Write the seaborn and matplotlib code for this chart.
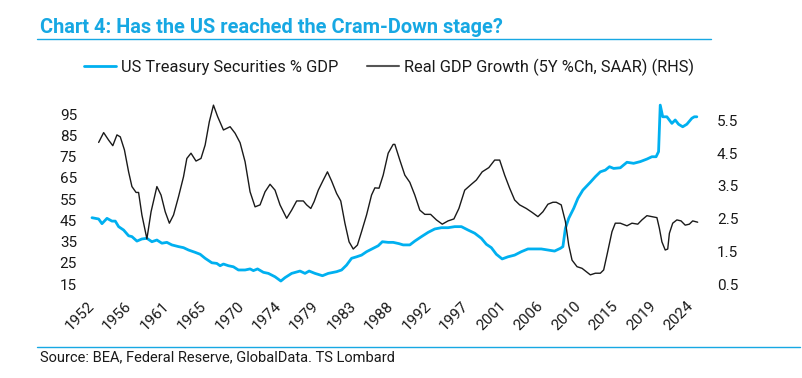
import matplotlib
matplotlib.use("Agg")
import matplotlib.pyplot as plt
import seaborn as sns
from matplotlib.lines import Line2D

# US Treasury securities as % of GDP (left axis)
ust_years = [
    1952.0, 1952.8, 1953.2, 1953.8, 1954.4, 1954.8, 1955.2, 1955.8, 1956.4, 1956.8,
    1957.4, 1958.0, 1958.6, 1959.2, 1959.8, 1960.4, 1961.0, 1961.6, 1962.4, 1963.0,
    1963.6, 1964.4, 1965.0, 1965.6, 1966.4, 1967.0, 1967.4, 1967.8, 1968.4, 1969.0,
    1969.6, 1970.4, 1971.0, 1971.4, 1971.9, 1972.6, 1973.2, 1974.0, 1974.7, 1975.2,
    1976.0, 1977.0, 1977.6, 1978.1, 1978.8, 1979.7, 1980.4, 1981.4, 1982.0, 1982.6,
    1983.2, 1983.8, 1984.4, 1985.0, 1985.8, 1986.4, 1986.9, 1987.6, 1988.2, 1988.9,
    1989.4, 1990.2, 1990.8, 1991.6, 1992.4, 1993.2, 1994.0, 1994.8, 1995.6, 1996.4,
    1997.2, 1998.0, 1998.8, 1999.4, 2000.0, 2000.6, 2001.3, 2002.0, 2002.8, 2003.6,
    2004.4, 2005.2, 2006.0, 2006.8, 2007.6, 2008.3, 2008.6, 2008.9, 2009.3, 2009.9,
    2010.4, 2011.0, 2011.9, 2012.5, 2013.1, 2013.7, 2014.2, 2014.7, 2015.5, 2016.3,
    2017.1, 2017.9, 2018.7, 2019.3, 2019.8, 2020.1, 2020.3, 2020.6, 2021.1, 2021.7,
    2022.1, 2022.5, 2023.0, 2023.5, 2024.1, 2024.4, 2024.7,
]
ust_pct_gdp = [
    46.2, 45.6, 43.4, 45.9, 44.6, 44.6, 42.0, 40.4, 37.7, 37.3,
    35.2, 36.2, 36.5, 34.9, 35.7, 34.2, 34.6, 33.4, 32.6, 32.1,
    31.0, 29.9, 29.0, 27.1, 25.0, 24.7, 23.6, 24.4, 23.6, 23.1,
    21.6, 21.6, 22.1, 21.3, 22.1, 20.5, 20.0, 18.4, 16.4, 18.0,
    20.0, 21.1, 20.0, 21.1, 20.0, 18.9, 20.0, 20.8, 21.6, 23.9,
    27.1, 27.8, 28.6, 30.2, 31.8, 33.0, 34.9, 34.6, 34.6, 34.0,
    33.4, 33.4, 35.2, 37.3, 39.3, 40.9, 41.5, 41.5, 42.0, 42.0,
    40.4, 38.9, 36.5, 33.7, 32.1, 29.0, 26.8, 27.8, 28.6, 30.2,
    31.5, 31.5, 31.5, 31.0, 30.5, 31.8, 32.6, 41.2, 45.9, 50.6,
    55.3, 59.2, 62.9, 65.5, 67.8, 68.6, 70.2, 69.4, 69.7, 72.3,
    71.8, 72.6, 73.8, 74.9, 74.9, 77.3, 99.2, 93.7, 93.7, 90.6,
    92.2, 90.2, 89.0, 90.2, 93.0, 93.7, 93.7,
]

# Real GDP growth, 5Y %ch SAAR (right axis)
gdp_years = [
    1952.8, 1953.4, 1954.0, 1954.5, 1955.0, 1955.4, 1955.9, 1956.4, 1956.8, 1957.3,
    1957.6, 1958.0, 1958.6, 1959.1, 1959.8, 1960.3, 1960.8, 1961.3, 1961.8, 1962.4,
    1963.0, 1963.4, 1963.9, 1964.5, 1965.1, 1965.6, 1966.1, 1966.6, 1967.1, 1967.8,
    1968.6, 1969.2, 1969.8, 1970.4, 1971.0, 1971.6, 1972.2, 1972.8, 1973.4, 1974.0,
    1974.6, 1975.4, 1976.0, 1976.6, 1977.4, 1977.8, 1978.3, 1978.7, 1979.2, 1979.8,
    1980.3, 1980.8, 1981.4, 1981.9, 1982.4, 1982.9, 1983.4, 1983.9, 1984.4, 1985.0,
    1985.6, 1986.0, 1986.5, 1987.0, 1987.6, 1988.2, 1988.4, 1989.0, 1989.6, 1990.2,
    1990.8, 1991.4, 1992.0, 1992.7, 1993.4, 1994.1, 1994.8, 1995.5, 1996.1, 1996.8,
    1997.6, 1998.2, 1998.9, 1999.7, 2000.4, 2001.0, 2001.6, 2002.2, 2002.8, 2003.4,
    2004.2, 2004.9, 2005.6, 2006.2, 2006.8, 2007.4, 2007.8, 2008.4, 2008.9, 2009.3,
    2009.7, 2010.3, 2010.9, 2011.4, 2011.9, 2012.5, 2013.1, 2013.5, 2013.9, 2014.5,
    2014.9, 2015.5, 2016.3, 2016.9, 2017.6, 2018.1, 2018.7, 2019.3, 2019.9, 2020.2,
    2020.5, 2020.9, 2021.2, 2021.4, 2021.8, 2022.3, 2022.8, 2023.3, 2023.8, 2024.2,
    2024.8,
]
gdp_growth = [
    4.83, 5.13, 4.90, 4.73, 5.06, 5.00, 4.60, 3.93, 3.48, 3.30,
    3.30, 2.61, 1.88, 2.71, 3.48, 3.22, 2.71, 2.36, 2.61, 3.17,
    3.78, 4.34, 4.50, 4.26, 4.34, 4.75, 5.46, 5.97, 5.62, 5.21,
    5.31, 5.11, 4.82, 4.24, 3.32, 2.86, 2.92, 3.32, 3.55, 3.37,
    2.92, 2.51, 2.76, 3.04, 3.04, 2.92, 2.81, 3.02, 3.37, 3.68,
    3.93, 3.65, 3.27, 3.04, 2.36, 1.79, 1.57, 1.69, 2.10, 2.61,
    3.22, 3.44, 3.43, 3.83, 4.50, 4.77, 4.77, 4.29, 3.83, 3.61,
    3.22, 2.76, 2.63, 2.63, 2.46, 2.33, 2.43, 2.49, 2.81, 3.37,
    3.55, 3.68, 3.93, 4.06, 4.29, 4.29, 3.83, 3.43, 3.07, 2.92,
    2.81, 2.69, 2.56, 2.71, 2.94, 3.00, 3.00, 2.92, 2.41, 1.69,
    1.23, 1.03, 0.98, 0.88, 0.78, 0.83, 0.83, 0.93, 1.39, 2.10,
    2.36, 2.36, 2.28, 2.36, 2.33, 2.46, 2.59, 2.56, 2.53, 2.20,
    1.79, 1.54, 1.57, 2.05, 2.36, 2.46, 2.43, 2.30, 2.33, 2.43,
    2.39,
]

tick_years = [1952.0, 1956.5, 1961.0, 1965.5, 1970.0, 1974.5, 1979.0, 1983.5, 1988.0,
              1992.5, 1997.0, 2001.5, 2006.0, 2010.5, 2015.0, 2019.5, 2024.0]
tick_labels = ["1952", "1956", "1961", "1965", "1970", "1974", "1979", "1983", "1988",
               "1992", "1997", "2001", "2006", "2010", "2015", "2019", "2024"]
left_ticks = [15, 25, 35, 45, 55, 65, 75, 85, 95]
right_ticks = [0.5, 1.5, 2.5, 3.5, 4.5, 5.5]

BLUE = "#00B0F0"
TITLE_BLUE = "#17A8E3"
DARK = "#1a1a1a"

sns.set_style("white")
plt.rcParams["font.family"] = ["Roboto", "DejaVu Sans"]

W, H = 803, 378
fig = plt.figure(figsize=(W / 100, H / 100), dpi=100)
ax = fig.add_axes([88 / W, (H - 290) / H, 614 / W, 190 / H])
ax2 = ax.twinx()

sns.lineplot(x=ust_years, y=ust_pct_gdp, ax=ax, color=BLUE, linewidth=2.0)
sns.lineplot(x=gdp_years, y=gdp_growth, ax=ax2, color=DARK, linewidth=1.0)

ax.set_xlim(1951.52, 2025.32)
ax.set_ylim(12.18, 101.6)
ax2.set_ylim(0.317, 6.127)

ax.set_xticks(tick_years)
ax.set_xticklabels(tick_labels, rotation=45, ha="right", va="center",
                   rotation_mode="anchor")
ax.set_yticks(left_ticks)
ax.set_yticklabels([str(v) for v in left_ticks])
ax2.set_yticks(right_ticks)
ax2.set_yticklabels([f"{v:.1f}" for v in right_ticks])

ax.tick_params(axis="x", length=0, pad=9.7, labelsize=11, labelcolor=DARK)
ax.tick_params(axis="y", length=0, pad=7.9, labelsize=11, labelcolor=DARK)
ax2.tick_params(axis="y", length=0, pad=10.8, labelsize=11, labelcolor=DARK)

for a in (ax, ax2):
    a.set_xlabel("")
    a.set_ylabel("")
    for s in a.spines.values():
        s.set_visible(False)
    if a.get_legend() is not None:
        a.get_legend().remove()

handles = [
    Line2D([], [], color=BLUE, linewidth=2.0),
    Line2D([], [], color="#555555", linewidth=1.5),
]
labels = ["US Treasury Securities % GDP", "Real GDP Growth (5Y %Ch, SAAR) (RHS)"]
fig.legend(handles, labels, loc="center", bbox_to_anchor=(389 / W, 1 - 67 / H),
           ncol=2, frameon=False, fontsize=11.8, handlelength=1.95,
           handletextpad=0.3, columnspacing=1.75, labelcolor=DARK)

fig.text(40 / W, 1 - 33 / H, "Chart 4: Has the US reached the Cram-Down stage?",
         color=TITLE_BLUE, fontsize=14.4, fontweight="bold", va="baseline")
fig.add_artist(Line2D([37 / W, 711 / W], [1 - 39 / H] * 2, color=TITLE_BLUE,
                      linewidth=1.0, transform=fig.transFigure))
fig.add_artist(Line2D([37 / W, 800 / W], [1 - 347 / H] * 2, color=TITLE_BLUE,
                      linewidth=1.0, transform=fig.transFigure))
fig.text(40 / W, 1 - 357 / H, "Source: BEA, Federal Reserve, GlobalData. TS Lombard",
         color=DARK, fontsize=10.5, va="center")

fig.savefig("out.png", dpi=100)
